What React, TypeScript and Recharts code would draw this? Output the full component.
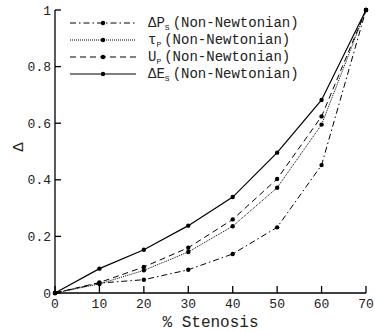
import { Line, LineChart, XAxis, YAxis, Label } from 'recharts'

const stenosis = [0, 10, 20, 30, 40, 50, 60, 70]
const deltaPs = [0, 0.035, 0.047, 0.082, 0.138, 0.232, 0.452, 1]
const tauP = [0, 0.032, 0.08, 0.145, 0.236, 0.372, 0.595, 1]
const uP = [0, 0.037, 0.092, 0.16, 0.26, 0.403, 0.624, 1]
const deltaEs = [0, 0.086, 0.153, 0.238, 0.339, 0.496, 0.682, 1]

const xTicks = [0, 10, 20, 30, 40, 50, 60, 70]
const yTicks = [0, 0.2, 0.4, 0.6, 0.8, 1]

const FONT = '"Liberation Mono", "DejaVu Sans Mono", monospace'
const TICK = { fontSize: 13, fill: '#222', fontFamily: FONT } as const

const data = stenosis.map((s, i) => ({
  s,
  dps: deltaPs[i],
  tau: tauP[i],
  up: uP[i],
  des: deltaEs[i],
}))

// legend names are split so the subscript can be drawn small
const SERIES = [
  { key: 'dps', main: 'ΔP', sub: 'S', dash: '6 3 1.5 3', width: 1 },
  { key: 'tau', main: 'τ', sub: 'P', dash: '1 1', width: 1 },
  { key: 'up', main: 'U', sub: 'P', dash: '6 4', width: 1 },
  { key: 'des', main: 'ΔE', sub: 'S', dash: undefined, width: 1.2 },
]

// drawn on top of the chart so it does not push the plot area down
function LegendBox() {
  return (
    <svg width={260} height={75} style={{ position: 'absolute', left: 70, top: 15 }}>
      {SERIES.map((s, i) => {
        const y = 8 + i * 17
        return (
          <g key={s.key}>
            <line x1={0} x2={66} y1={y} y2={y} stroke="#000" strokeWidth={s.width} strokeDasharray={s.dash} />
            <circle cx={33} cy={y} r={2.2} fill="#000" />
            <text x={78} y={y + 4} fontSize={14} fontFamily={FONT} fill="#222">
              {s.main}
              <tspan fontSize={8} dy={3}>{s.sub}</tspan>
              <tspan dx={3} dy={-3}>(Non-Newtonian)</tspan>
            </text>
          </g>
        )
      })}
    </svg>
  )
}

export default function App() {
  return (
    <div style={{ position: 'absolute', left: 0, top: 0, width: 375, height: 331, background: '#fff' }}>
      <LineChart width={375} height={331} data={data} margin={{ top: 10, right: 9, bottom: 0, left: 0 }}>
        <XAxis
          dataKey="s"
          type="number"
          domain={[0, 70]}
          ticks={xTicks}
          tick={TICK}
          tickSize={-7}
          tickMargin={13}
          axisLine={{ stroke: '#000', strokeWidth: 1.3 }}
          tickLine={{ stroke: '#000', strokeWidth: 1.3 }}
          height={38}
        >
          <Label value="% Stenosis" position="insideBottom" offset={4} style={{ fontSize: 16, fontFamily: FONT, fill: '#222' }} />
        </XAxis>
        <YAxis
          type="number"
          domain={[0, 1]}
          ticks={yTicks}
          tick={TICK}
          tickFormatter={(v: number) => `${v}`}
          tickSize={-6}
          tickMargin={10}
          axisLine={{ stroke: '#000', strokeWidth: 1.3 }}
          tickLine={{ stroke: '#000', strokeWidth: 1.3 }}
          width={55}
        >
          <Label value="Δ" angle={-90} position="insideLeft" offset={18} style={{ fontSize: 15, fontFamily: FONT, fill: '#222' }} />
        </YAxis>
        {SERIES.map((s) => (
          <Line
            key={s.key}
            dataKey={s.key}
            type="linear"
            stroke="#000"
            strokeWidth={s.width}
            strokeDasharray={s.dash}
            dot={{ r: 2.2, fill: '#000', stroke: '#000', strokeWidth: 0 }}
            isAnimationActive={false}
          />
        ))}
      </LineChart>
      <LegendBox />
    </div>
  )
}
